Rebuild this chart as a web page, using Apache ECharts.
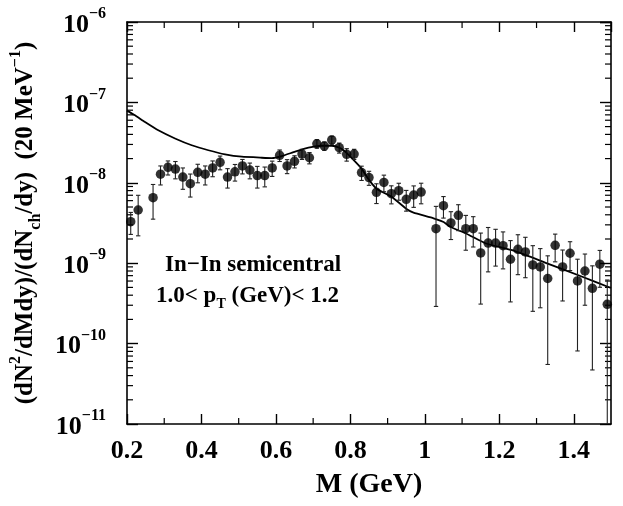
<!DOCTYPE html>
<html><head><meta charset="utf-8">
<script src="https://cdn.jsdelivr.net/npm/echarts@6/dist/echarts.min.js"></script>
<style>html,body{margin:0;padding:0;background:#fff}#c{width:623px;height:506px}</style>
</head><body><div id="c"></div>
<script>
// ---- data ----
const mass = [0.21,0.23,0.27,0.29,0.31,0.33,0.35,0.37,0.39,0.41,0.43,0.45,0.47,0.49,0.51,0.53,0.55,0.57,0.59,0.61,0.63,0.65,0.67,0.69,0.71,0.73,0.75,0.77,0.79,0.81,0.83,0.85,0.87,0.89,0.91,0.93,0.95,0.97,0.99,1.03,1.05,1.07,1.09,1.11,1.13,1.15,1.17,1.19,1.21,1.23,1.25,1.27,1.29,1.31,1.33,1.35,1.37,1.39,1.41,1.43,1.45,1.47,1.49];
const yieldVal = [3.28e-9,4.59e-9,6.53e-9,1.28e-8,1.56e-8,1.48e-8,1.18e-8,9.75e-9,1.35e-8,1.28e-8,1.53e-8,1.80e-8,1.18e-8,1.37e-8,1.62e-8,1.44e-8,1.23e-8,1.23e-8,1.53e-8,2.20e-8,1.62e-8,1.85e-8,2.28e-8,2.05e-8,3.06e-8,2.87e-8,3.41e-8,2.73e-8,2.26e-8,2.28e-8,1.34e-8,1.16e-8,7.62e-9,1.01e-8,7.32e-9,7.97e-9,6.24e-9,7.05e-9,7.68e-9,2.69e-9,5.19e-9,3.17e-9,3.94e-9,2.69e-9,2.69e-9,1.34e-9,1.78e-9,1.78e-9,1.65e-9,1.12e-9,1.49e-9,1.38e-9,9.52e-10,8.99e-10,6.45e-10,1.67e-9,8.99e-10,1.33e-9,6.01e-10,8.0e-10,4.87e-10,9.72e-10,3.08e-10];
const yieldErr = [1.0e-9,2.4e-9,3.0e-9,3.4e-9,3.1e-9,3.6e-9,3.5e-9,3.1e-9,3.5e-9,3.4e-9,3.4e-9,3.5e-9,3.2e-9,3.2e-9,3.3e-9,3.2e-9,3.7e-9,3.4e-9,3.3e-9,3.6e-9,3.2e-9,3.2e-9,3.3e-9,3.3e-9,3.7e-9,3.4e-9,3.9e-9,3.9e-9,4.0e-9,3.3e-9,2.7e-9,2.3e-9,2.1e-9,2.35e-9,1.85e-9,1.9e-9,1.8e-9,2.1e-9,2.2e-9,2.4e-9,1.55e-9,1.2e-9,1.4e-9,1.24e-9,1.1e-9,1.03e-9,1.0e-9,0.86e-9,0.8e-9,0.79e-9,0.77e-9,0.72e-9,0.7e-9,0.62e-9,0.59e-9,0.63e-9,0.56e-9,0.52e-9,0.52e-9,0.5e-9,0.44e-9,0.47e-9,0.31e-9];
const curveM = [0.200,0.2215,0.2484,0.2841,0.329,0.3739,0.4185,0.4634,0.5083,0.562,0.589,0.6159,0.6516,0.6874,0.7234,0.7503,0.7707,0.786,0.8129,0.8309,0.8505,0.8712,0.9105,0.9519,0.9696,1.0234,1.0503,1.0683,1.1132,1.1624,1.2384,1.3282,1.4177,1.5];
const curveY = [7.9e-8,6.9e-8,5.7e-8,4.5e-8,3.56e-8,2.93e-8,2.54e-8,2.26e-8,2.11e-8,2.05e-8,2.03e-8,2.15e-8,2.44e-8,2.73e-8,2.89e-8,2.89e-8,2.73e-8,2.44e-8,1.83e-8,1.48e-8,1.08e-8,8.37e-9,6.72e-9,4.68e-9,4.25e-9,3.62e-9,3.25e-9,2.84e-9,2.31e-9,1.77e-9,1.43e-9,9.97e-10,6.93e-10,4.91e-10];
const xMin = 0.2, xMax = 1.5, yMin = 1e-11, yMax = 1e-6;
const xMinorTicks = [0.3,0.5,0.7,0.9,1.1,1.3];
const yDecades = [-11,-10,-9,-8,-7];
const yMinorMult = [2,3,4,5,6,7,8,9];
const label1 = 'In\u2212In semicentral';

const FONT = '"Liberation Serif","Times New Roman",Times,serif';
const chart = echarts.init(document.getElementById('c'), null, {renderer:'canvas'});

const pts = mass.map((m,i)=>[m, yieldVal[i]]);
const errs = mass.map((m,i)=>[m, yieldVal[i], yieldErr[i]]);
const curve = curveM.map((m,i)=>[m, curveY[i]]);

const axisLineStyle = {color:'#000', width:1.6};
const tickStyle = {color:'#000', width:1.4};

function supLabel(v){
  const e = Math.round(Math.log10(v));
  return '{b|10}{s|\u2212' + Math.abs(e) + '}';
}
const supRich = {
  b:{fontFamily:FONT,fontWeight:'bold',fontSize:26,color:'#000',verticalAlign:'bottom',lineHeight:32},
  s:{fontFamily:FONT,fontWeight:'bold',fontSize:16,color:'#000',verticalAlign:'top'}
};

chart.setOption({
  animation:false,
  backgroundColor:'#fff',
  grid:{left:127,right:12,top:22,bottom:82,containLabel:false,outerBoundsMode:'none'},
  xAxis:[{
    type:'value',min:xMin,max:xMax,interval:0.2,
    axisLine:{show:true,onZero:false,lineStyle:axisLineStyle},
    axisTick:{show:true,inside:true,length:10,lineStyle:tickStyle},
    splitLine:{show:false},
    axisLabel:{show:true,margin:14,showMaxLabel:false,fontFamily:FONT,fontWeight:'bold',fontSize:26,color:'#000',
      formatter:v=>{const r=Math.round(v*10)/10; return Math.abs(r-1)<1e-9?'1':String(r);}},
    name:'M (GeV)',nameLocation:'middle',nameGap:47,
    nameTextStyle:{fontFamily:FONT,fontWeight:'bold',fontSize:28,color:'#000'}
  },{
    type:'value',position:'top',min:xMin,max:xMax,interval:0.2,
    axisLine:{show:true,onZero:false,lineStyle:axisLineStyle},
    axisTick:{show:true,inside:true,length:10,lineStyle:tickStyle},
    splitLine:{show:false},axisLabel:{show:false}
  }],
  yAxis:[{
    type:'log',logBase:10,min:yMin,max:yMax,
    axisLine:{show:true,onZero:false,lineStyle:axisLineStyle},
    axisTick:{show:true,inside:true,length:11,lineStyle:tickStyle},
    splitLine:{show:false},minorTick:{show:false},
    axisLabel:{show:true,margin:21,formatter:supLabel,rich:supRich},
    name:'{t|(dN}{sp|2}{t|/dMdy)/(dN}{sb|ch}{t|/dy)  (20 MeV}{sp|\u22121}{t|)}',
    nameLocation:'middle',nameGap:78,nameRotate:90,
    nameTextStyle:{rich:{
      t:{fontFamily:FONT,fontWeight:'bold',fontSize:25,color:'#000',verticalAlign:'middle',lineHeight:36},
      sp:{fontFamily:FONT,fontWeight:'bold',fontSize:16,color:'#000',verticalAlign:'top'},
      sb:{fontFamily:FONT,fontWeight:'bold',fontSize:16,color:'#000',verticalAlign:'bottom'}
    }}
  },{
    type:'log',logBase:10,min:yMin,max:yMax,position:'right',
    axisLine:{show:true,onZero:false,lineStyle:axisLineStyle},
    axisTick:{show:true,inside:true,length:11,lineStyle:tickStyle},
    splitLine:{show:false},axisLabel:{show:false}
  }],
  graphic:[
    {type:'text',left:165,top:254,style:{text:label1,fontFamily:FONT,fontWeight:'bold',fontSize:23,fill:'#000'}},
    {type:'text',left:156,top:285,style:{
      text:'{t|1.0< p}{sb|T}{t| (GeV)< 1.2}',
      rich:{t:{fontFamily:FONT,fontWeight:'bold',fontSize:23,fill:'#000',color:'#000',verticalAlign:'middle',lineHeight:30},
            sb:{fontFamily:FONT,fontWeight:'bold',fontSize:14,fill:'#000',color:'#000',verticalAlign:'bottom'}}}}
  ],
  series:[
    {
      type:'custom',name:'minorTicks',clip:false,silent:true,xAxisIndex:0,yAxisIndex:0,
      data:[[xMin,yMin]],
      renderItem:function(params,api){
        const children=[];
        const L=6;
        yDecades.forEach(d=>{
          yMinorMult.forEach(k=>{
            const v=k*Math.pow(10,d);
            const pl=api.coord([xMin,v]), pr=api.coord([xMax,v]);
            children.push({type:'line',shape:{x1:pl[0],y1:pl[1],x2:pl[0]+L,y2:pl[1]},style:{stroke:'#000',lineWidth:1.2}});
            children.push({type:'line',shape:{x1:pr[0],y1:pr[1],x2:pr[0]-L,y2:pr[1]},style:{stroke:'#000',lineWidth:1.2}});
          });
        });
        xMinorTicks.forEach(x=>{
          const pb=api.coord([x,yMin]), pt=api.coord([x,yMax]);
          children.push({type:'line',shape:{x1:pb[0],y1:pb[1],x2:pb[0],y2:pb[1]-L},style:{stroke:'#000',lineWidth:1.2}});
          children.push({type:'line',shape:{x1:pt[0],y1:pt[1],x2:pt[0],y2:pt[1]+L},style:{stroke:'#000',lineWidth:1.2}});
        });
        return {type:'group',children:children};
      }
    },
    {
      type:'line',name:'model',data:curve,showSymbol:false,smooth:0.15,
      lineStyle:{color:'#000',width:1.8},z:3
    },
    {
      type:'custom',name:'errors',clip:true,data:errs,encode:{x:0,y:1},z:4,
      renderItem:function(params,api){
        const x=api.value(0), y=api.value(1), e=api.value(2);
        const hi=y+e, lo=y-e;
        const pt=api.coord([x,hi]);
        const clamped = !(lo>yMin);
        const pb=api.coord([x, clamped?yMin:lo]);
        const cw=2.2;
        const st={stroke:'#222',lineWidth:1.1};
        const ch=[{type:'line',shape:{x1:pt[0],y1:pt[1],x2:pb[0],y2:pb[1]},style:st},
                  {type:'line',shape:{x1:pt[0]-cw,y1:pt[1],x2:pt[0]+cw,y2:pt[1]},style:st}];
        if(!clamped) ch.push({type:'line',shape:{x1:pb[0]-cw,y1:pb[1],x2:pb[0]+cw,y2:pb[1]},style:st});
        return {type:'group',children:ch};
      }
    },
    {
      type:'scatter',name:'data',data:pts,symbol:'circle',symbolSize:9.5,
      itemStyle:{color:'#000'},z:5
    }
  ]
});
</script>
</body></html>
